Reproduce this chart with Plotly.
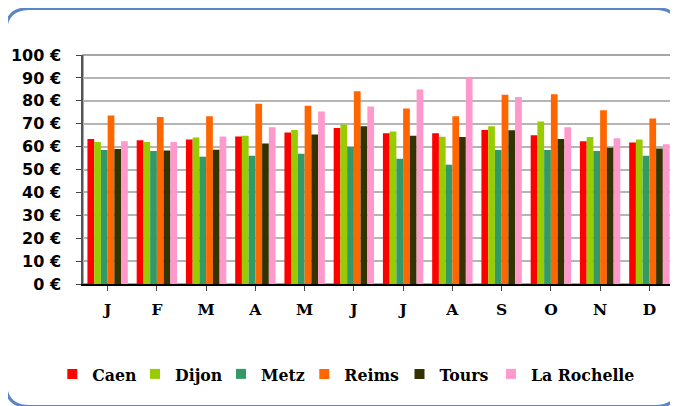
import plotly.graph_objects as go

months = ["J", "F", "M", "A", "M", "J", "J", "A", "S", "O", "N", "D"]
caen = [63.3, 62.8, 63.1, 64.4, 66.2, 68.1, 65.8, 65.8, 67.2, 65.0, 62.3, 61.8]
dijon = [62.0, 62.0, 64.0, 64.7, 67.2, 69.7, 66.6, 64.3, 68.9, 71.0, 64.2, 63.1]
metz = [58.5, 58.1, 55.6, 56.0, 56.9, 59.8, 54.7, 52.1, 58.5, 58.5, 58.1, 56.0]
reims = [73.6, 72.9, 73.2, 78.7, 77.8, 84.2, 76.6, 73.2, 82.6, 82.9, 75.9, 72.3]
tours = [58.9, 58.3, 58.6, 61.4, 65.3, 68.9, 64.7, 64.2, 67.1, 63.3, 59.5, 59.2]
la_rochelle = [62.3, 62.0, 64.4, 68.5, 75.3, 77.5, 84.9, 90.0, 81.7, 68.5, 63.6, 61.0]

series_names = ["Caen", "Dijon", "Metz", "Reims", "Tours", "La Rochelle"]
series_values = [caen, dijon, metz, reims, tours, la_rochelle]
series_colors = ["#ff0000", "#99cc00", "#339966", "#ff6600", "#333300", "#ff99cc"]
y_ticks = list(range(0, 101, 10))
y_tick_labels = [f"{v} €" for v in y_ticks]

OFF = 8  # page body margin
W, H = 678 - OFF, 406 - OFF
L, T = 83 - OFF, 55 - OFF
R = W - (674 - OFF)
B = H - (284 - OFF)
pw, ph = W - L - R, H - T - B

def px(x):
    return (x - OFF - L) / pw

def py(y):
    return (H - B - (y - OFF)) / ph

x_idx = list(range(len(months)))
legend_ids = ["legend", "legend2", "legend3", "legend4", "legend5", "legend6"]
legend_text_x = [87.3, 170, 256, 339.3, 434.5, 526]  # layout positions (px)

fig = go.Figure()
for name, vals, col in zip(series_names, series_values, series_colors):
    fig.add_trace(go.Bar(x=x_idx, y=vals, name=name, marker_color=col,
                         marker_line_width=0, showlegend=False))
for name, col, lid in zip(series_names, series_colors, legend_ids):
    fig.add_trace(go.Scatter(x=[None], y=[None], mode="markers", name=name, legend=lid,
                             marker=dict(symbol="square", size=10, color=col, line_width=0)))

# rounded frame
x0, x1, y0, y1, r = 5.5, 679.5, 8.5, 406.5, 24
path = (f"M {px(x0+r)},{py(y0)} L {px(x1-r)},{py(y0)} Q {px(x1)},{py(y0)} {px(x1)},{py(y0+r)} "
        f"L {px(x1)},{py(y1-r)} Q {px(x1)},{py(y1)} {px(x1-r)},{py(y1)} "
        f"L {px(x0+r)},{py(y1)} Q {px(x0)},{py(y1)} {px(x0)},{py(y1-r)} "
        f"L {px(x0)},{py(y0+r)} Q {px(x0)},{py(y0)} {px(x0+r)},{py(y0)} Z")
fig.add_shape(type="path", path=path, xref="paper", yref="paper",
              line=dict(color="#5b86c5", width=3), layer="above")
fig.add_shape(type="rect", x0=0, x1=1, y0=0, y1=1, xref="paper", yref="paper",
              line=dict(color="#8a8a8a", width=1.5), layer="below")

legend_font = dict(family="DejaVu Serif Condensed", size=17.5, color="black", weight="bold")
legends = {}
for lid, tx in zip(legend_ids, legend_text_x):
    legends[lid] = dict(orientation="h", x=px(tx - 35), xanchor="left", y=py(374),
                        yanchor="middle", font=legend_font, itemwidth=30,
                        bgcolor="rgba(0,0,0,0)")

fig.update_layout(
    width=W, height=H,
    margin=dict(l=L, r=R, t=T, b=B, pad=0),
    paper_bgcolor="white", plot_bgcolor="white",
    barmode="group", bargap=0.18, bargroupgap=0,
    showlegend=True,
    **legends,
    xaxis=dict(tickmode="array", tickvals=x_idx, ticktext=months,
               range=[-0.5, len(months) - 0.5],
               tickson="boundaries", ticks="outside", ticklen=5, tickcolor="#444",
               showline=True, linecolor="black", linewidth=2, showgrid=False,
               ticklabelstandoff=5,
               tickfont=dict(family="DejaVu Serif", size=15.5, color="black", weight="bold")),
    yaxis=dict(range=[0, 100], tickvals=y_ticks, ticktext=y_tick_labels,
               ticks="outside", ticklen=5, tickcolor="#444",
               showline=True, linecolor="#555", linewidth=1.5,
               showgrid=True, gridcolor="#b5b5b5", gridwidth=1.5, zeroline=False,
               ticklabelstandoff=12,
               tickfont=dict(family="DejaVu Sans", size=16, color="black", weight="bold")),
)

fig.write_html("out.html")
